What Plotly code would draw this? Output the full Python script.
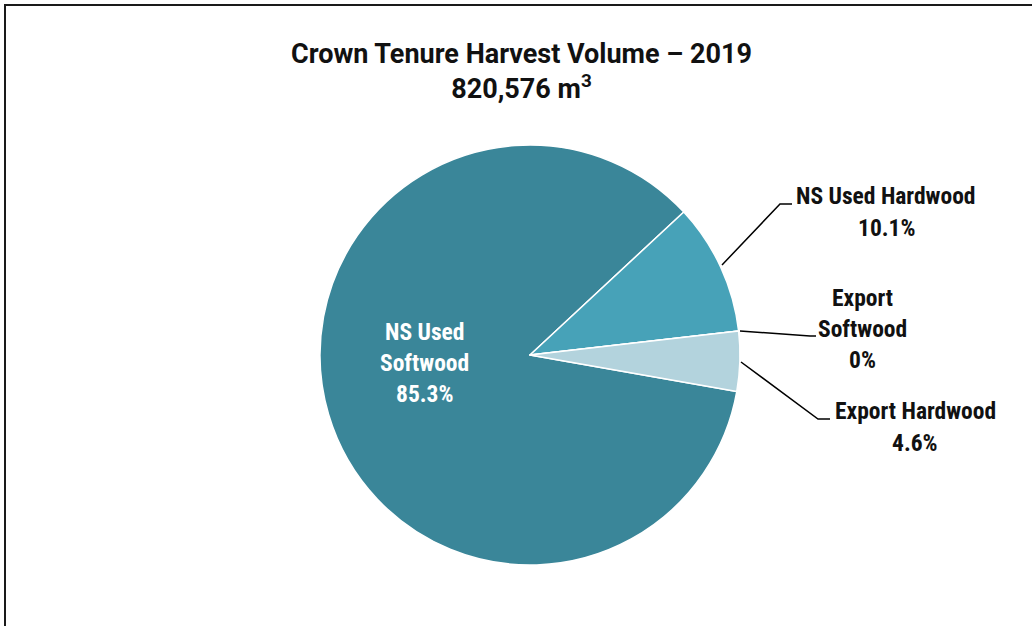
import plotly.graph_objects as go

W, H = 1032, 626

categories = ["NS Used Softwood", "NS Used Hardwood", "Export Softwood", "Export Hardwood"]
shares = [85.3, 10.1, 0.0, 4.6]
colors = ["#3A8699", "#47A2B8", "#8FC3D2", "#B3D3DD"]
title_line1 = "Crown Tenure Harvest Volume – 2019"
title_line2 = "820,576 m<sup>3</sup>"

cx, cy, R = 530, 355, 210

def px(x):
    return x / W

def py(y):
    return 1 - y / H

fig = go.Figure()
fig.add_trace(go.Pie(
    labels=categories,
    values=shares,
    textinfo="none",
    marker=dict(colors=colors, line=dict(color="white", width=1.5)),
    sort=False,
    direction="clockwise",
    rotation=100,
    showlegend=False,
    hoverinfo="label+percent",
    domain=dict(x=[px(cx - R), px(cx + R)], y=[py(cy + R), py(cy - R)]),
))

fam = "Roboto Condensed"
shapes = []
annotations = []

outs = [
    ((722, 265), (780, 204), (792, 204)),
    ((740, 331), (810, 336), (816, 336)),
    ((741, 362), (818, 419), (830, 419)),
]
for p0, p1, p2 in outs:
    shapes.append(dict(type="path", xref="paper", yref="paper",
                       path=f"M {px(p0[0])},{py(p0[1])} L {px(p1[0])},{py(p1[1])} L {px(p2[0])},{py(p2[1])}",
                       line=dict(color="black", width=1.5)))

label_lines = [
    (424, [332, 363, 394], ["NS Used", "Softwood", f"{shares[0]}%"], "white"),
    (886, [196, 228], ["NS Used Hardwood", f"{shares[1]}%"], "#111111"),
    (862, [298, 329, 360], ["Export", "Softwood", f"{shares[2]:g}%"], "#111111"),
    (915, [411, 443], ["Export Hardwood", f"{shares[3]}%"], "#111111"),
]
for x, ys, lines, col in label_lines:
    for y, t in zip(ys, lines):
        annotations.append(dict(x=px(x), y=py(y), xref="paper", yref="paper", text=f"<b>{t}</b>",
                                showarrow=False, font=dict(family=fam, size=23.5, color=col),
                                xanchor="center", yanchor="middle"))

shapes.append(dict(type="rect", xref="paper", yref="paper",
                   x0=px(5), y0=py(660), x1=px(1060), y1=py(5),
                   line=dict(color="#1a1a1a", width=2)))

annotations.append(dict(x=px(521), y=py(72), xref="paper", yref="paper",
                        text=f"<b>{title_line1}<br>{title_line2}</b>", showarrow=False,
                        font=dict(family="Roboto", size=27, color="#111"),
                        align="center", xanchor="center", yanchor="middle"))

fig.update_layout(
    width=W, height=H,
    margin=dict(l=0, r=0, t=0, b=0),
    paper_bgcolor="white",
    shapes=shapes,
    annotations=annotations,
)

fig.write_html("out.html", config={"displayModeBar": False},
               post_script="document.body.style.margin='0px';")
